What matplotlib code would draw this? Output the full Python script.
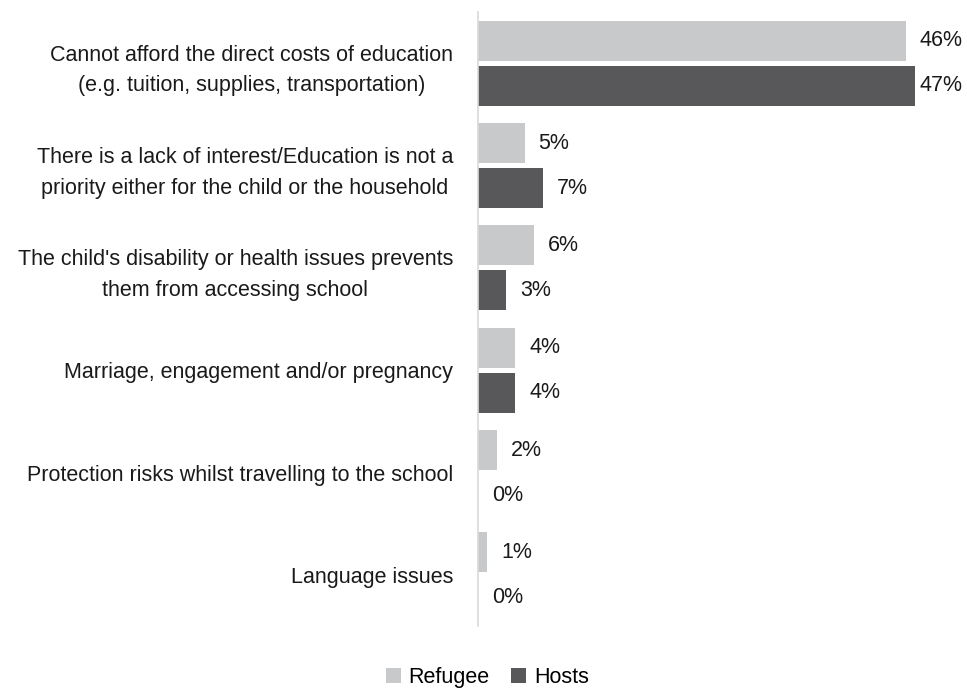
import matplotlib
matplotlib.use("Agg")
import matplotlib.pyplot as plt
import numpy as np

plt.rcParams['font.family'] = ['Liberation Sans', 'DejaVu Sans']

categories = [
    "Cannot afford the direct costs of education\n(e.g. tuition, supplies, transportation)",
    "There is a lack of interest/Education is not a\npriority either for the child or the household",
    "The child's disability or health issues prevents\nthem from accessing school",
    "Marriage, engagement and/or pregnancy",
    "Protection risks whilst travelling to the school",
    "Language issues",
]
refugee = [46, 5, 6, 4, 2, 1]
hosts = [47, 7, 3, 4, 0, 0]

c_ref = "#C8C9CA"
c_host = "#58585A"
fs = 15.5

fig = plt.figure(figsize=(9.67, 6.91), dpi=100)
ax = fig.add_axes([0.4943, 0.094, 0.481, 0.8886])

y = np.arange(len(categories))
h = 0.39
off = 0.22
b1 = ax.barh(y - off, refugee, height=h, color=c_ref, label="Refugee")
b2 = ax.barh(y + off, hosts, height=h, color=c_host, label="Hosts")

top = max(refugee + hosts)
for bars, vals in ((b1, refugee), (b2, hosts)):
    for i, (bar, v) in enumerate(zip(bars, vals)):
        # the longest bar's label is tucked closer so it stays inside the figure
        dx = 3 if (v == top) else 10
        ax.annotate(f"{v}%", xy=(v, bar.get_y() + bar.get_height() / 2),
                    xytext=(dx, 0), textcoords="offset points",
                    ha="left", va="center", fontsize=fs, color="#1a1a1a")

ax.set_xlim(0, 50)
ax.set_ylim(len(categories) - 0.5, -0.5)
ax.set_yticks(y)
ax.set_yticklabels(categories, fontsize=fs, color="#1a1a1a", ha="right",
                   multialignment="center", linespacing=1.6)
ax.tick_params(axis="y", length=0, pad=18)
ax.set_xticks([])
for s in ("top", "right", "bottom"):
    ax.spines[s].set_visible(False)
ax.spines["left"].set_color("#D9D9D9")
ax.spines["left"].set_linewidth(1.2)

fig.legend(handles=[b1, b2], labels=["Refugee", "Hosts"], loc="center",
           bbox_to_anchor=(0.504, 0.02), ncol=2, frameon=False, fontsize=fs,
           handlelength=0.7, handleheight=0.7, handletextpad=0.35,
           columnspacing=1.0)

fig.savefig("out.png", dpi=100)
